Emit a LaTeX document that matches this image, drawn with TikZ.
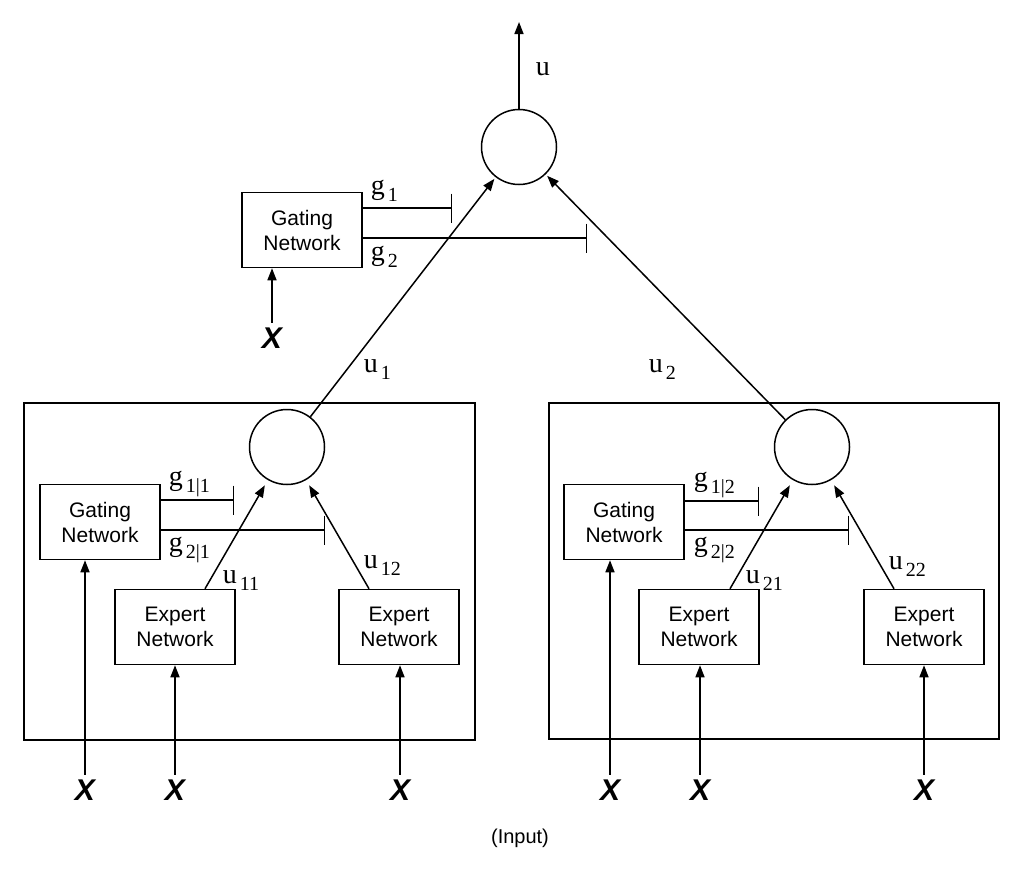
\documentclass[tikz,border=0pt]{standalone}
\usepackage{fontspec}
\setmainfont{Liberation Serif}
\setsansfont{Liberation Sans}
\usetikzlibrary{arrows.meta}
\newcommand{\subl}[2]{#1\hspace{3pt}\raisebox{-7pt}{\fontsize{20}{20}\selectfont #2}}
\begin{document}
\begin{tikzpicture}[x=1pt, y=-1pt, line width=1.5pt,
  sum/.style={draw, circle, minimum size=75pt, inner sep=0pt},
  net/.style={draw, minimum width=120pt, minimum height=75pt, inner sep=0pt,
    align=center, font=\sffamily\fontsize{21}{25}\selectfont},
  lbl/.style={anchor=base west, inner sep=0pt, font=\fontsize{28}{30}\selectfont},
  inp/.style={inner sep=4pt, font=\sffamily\bfseries\itshape\fontsize{30}{30}\selectfont},
  feed/.style={-{Triangle[length=12pt,width=9pt]}},
  gate/.style={-{Bar[width=29pt]}}]
  \useasboundingbox (0,0) rectangle (1024,870);

  % top level
  \node[sum] (top) at (519,147) {};
  \coordinate (out) at (519,22);
  \draw[feed] (top) -- (out);
  \node[lbl] at (535,75) {u};
  \node[net] (gtop) at (302,230) {Gating\\Network};
  \node[inp] (xtop) at (272,338) {X};
  \draw[feed] (xtop) -- (xtop |- gtop.south);
  \coordinate (g1end) at (452,208);
  \coordinate (g2end) at (587,238);
  \draw[gate] (gtop.east |- g1end) -- (g1end);
  \draw[gate] (gtop.east |- g2end) -- (g2end);
  \node[lbl] at (370,194) {\subl{g}{1}};
  \node[lbl] at (370,260) {\subl{g}{2}};

  % left block
  \node[draw, minimum width=451pt, minimum height=337pt, inner sep=0pt] (blk1) at (249.5,571.5) {};
  \node[sum] (s1) at (287,447) {};
  \node[net] (gl) at (100,522) {Gating\\Network};
  \node[net] (e11) at (175,627) {Expert\\Network};
  \node[net] (e12) at (399,627) {Expert\\Network};
  \draw[feed, shorten >=6pt] ([xshift=30pt]e11.north) -- (s1);
  \draw[feed, shorten >=6pt] ([xshift=-30pt]e12.north) -- (s1);
  \coordinate (g11end) at (234,500);
  \coordinate (g21end) at (325,530);
  \draw[gate] (gl.east |- g11end) -- (g11end);
  \draw[gate] (gl.east |- g21end) -- (g21end);
  \node[lbl] at (168,485) {\subl{g}{1|1}};
  \node[lbl] at (168,551) {\subl{g}{2|1}};
  \node[lbl] at (222,583) {\subl{u}{11}};
  \node[lbl] at (363,568) {\subl{u}{12}};
  \node[inp] (xl1) at (85,790) {X};
  \node[inp] (xl2) at (175,790) {X};
  \node[inp] (xl3) at (400,790) {X};
  \draw[feed] (xl1) -- (xl1 |- gl.south);
  \draw[feed] (xl2) -- (xl2 |- e11.south);
  \draw[feed] (xl3) -- (xl3 |- e12.south);

  % right block
  \node[draw, minimum width=450pt, minimum height=336pt, inner sep=0pt] (blk2) at (774,571) {};
  \node[sum] (s2) at (812,447) {};
  \node[net] (gr) at (624,522) {Gating\\Network};
  \node[net] (e21) at (699,627) {Expert\\Network};
  \node[net] (e22) at (924,627) {Expert\\Network};
  \draw[feed, shorten >=6pt] ([xshift=31pt]e21.north) -- (s2);
  \draw[feed, shorten >=6pt] ([xshift=-30pt]e22.north) -- (s2);
  \coordinate (g12end) at (759,501);
  \coordinate (g22end) at (849,530);
  \draw[gate] (gr.east |- g12end) -- (g12end);
  \draw[gate] (gr.east |- g22end) -- (g22end);
  \node[lbl] at (693,486) {\subl{g}{1|2}};
  \node[lbl] at (693,551) {\subl{g}{2|2}};
  \node[lbl] at (745,583) {\subl{u}{21}};
  \node[lbl] at (888,569) {\subl{u}{22}};
  \node[inp] (xr1) at (610,790) {X};
  \node[inp] (xr2) at (700,790) {X};
  \node[inp] (xr3) at (924,790) {X};
  \draw[feed] (xr1) -- (xr1 |- gr.south);
  \draw[feed] (xr2) -- (xr2 |- e21.south);
  \draw[feed] (xr3) -- (xr3 |- e22.south);

  % blocks to top
  \draw[feed, shorten >=2pt] (s1) -- (top);
  \draw[feed, shorten >=2pt] (s2) -- (top);
  \node[lbl] at (363,372) {\subl{u}{1}};
  \node[lbl] at (648,372) {\subl{u}{2}};

  \node[font=\sffamily\fontsize{20}{20}\selectfont] (input) at (520,838) {(Input)};
\end{tikzpicture}
\end{document}
